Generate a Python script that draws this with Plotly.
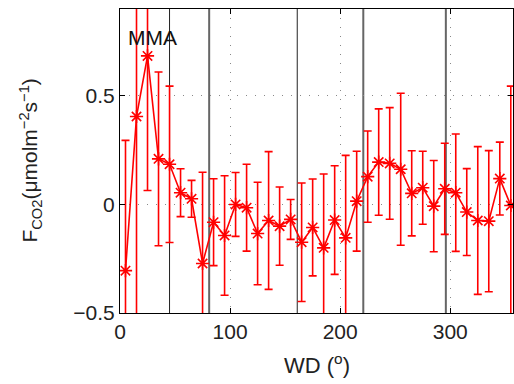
import plotly.graph_objects as go

wd = [5, 15, 25, 35, 45, 55, 65, 75, 85, 95, 105, 115, 125, 135, 145, 155, 165, 175,
      185, 195, 205, 215, 225, 235, 245, 255, 265, 275, 285, 295, 305, 315, 325, 335, 345, 355]
fco2 = [-0.305, 0.405, 0.684, 0.21, 0.185, 0.054, 0.026, -0.272, -0.082, -0.143, 0.0, -0.015,
        -0.134, -0.074, -0.1, -0.069, -0.174, -0.106,
        -0.2, -0.072, -0.154, 0.015, 0.128, 0.195, 0.189, 0.162, 0.051, 0.077, -0.008, 0.072,
        0.054, -0.035, -0.074, -0.077, 0.119, -0.005]
err = [0.6, 1.0, 0.62, 0.4, 0.36, 0.11, 0.085, 0.42, 0.2, 0.275, 0.147, 0.2,
       0.236, 0.317, 0.18, 0.092, 0.273, 0.223,
       0.34, 0.25, 0.38, 0.23, 0.21, 0.245, 0.257, 0.35, 0.196, 0.168, 0.21, 0.21,
       0.27, 0.2, 0.34, 0.325, 0.168, 0.55]
sector_black = [45, 161]
sector_gray = [81, 221, 296]
xticks = [0, 100, 200, 300]
yticks = [-0.5, 0, 0.5]
ytick_text = ["\u22120.5", "0", "0.5"]

FONT = "Liberation Sans, Arial, sans-serif"

fig = go.Figure()
fig.add_trace(go.Scatter(
    x=wd, y=fco2, mode="lines+markers",
    line=dict(color="#ff0000", width=1.6),
    marker=dict(symbol="asterisk-open", size=11, line=dict(color="#ff0000", width=1.6)),
    error_y=dict(type="data", array=err, visible=True, color="#ff0000", thickness=1.6, width=4),
    showlegend=False, cliponaxis=True,
))

shapes = []
for v in sector_black:
    shapes.append(dict(type="line", xref="x", yref="paper", x0=v, x1=v, y0=0, y1=1,
                       line=dict(color="#222222", width=1), layer="below"))
for v in sector_gray:
    shapes.append(dict(type="line", xref="x", yref="paper", x0=v, x1=v, y0=0, y1=1,
                       line=dict(color="#666666", width=2), layer="below"))

axis_common = dict(
    showline=True, linecolor="black", linewidth=1.2, mirror="ticks",
    ticks="inside", ticklen=5, tickcolor="black",
    showgrid=True, gridcolor="#888888", griddash="1px,8px", gridwidth=1.2,
    zeroline=False, tickfont=dict(family=FONT, size=21, color="#222222"),
    automargin=False,
)

fig.update_layout(
    width=514, height=384,
    margin=dict(l=120, r=1, t=9, b=71),
    paper_bgcolor="white", plot_bgcolor="white",
    shapes=shapes,
    xaxis=dict(range=[0, 357], tickvals=xticks, ticktext=[str(t) for t in xticks], **axis_common),
    yaxis=dict(range=[-0.5, 0.9], tickvals=yticks, ticktext=ytick_text, **axis_common),
    annotations=[
        dict(text="MMA", xref="paper", yref="paper", x=0.016, y=0.905, xanchor="left", yanchor="middle",
             showarrow=False, font=dict(family=FONT, size=21, color="#111111")),
        dict(text="F<sub>CO2</sub>(\u03bcmolm<sup>\u22122</sup>s<sup>\u22121</sup>)",
             xref="paper", yref="paper", x=-0.23, y=0.5, xanchor="center", yanchor="middle",
             textangle=-90, showarrow=False, font=dict(family=FONT, size=21, color="#222222")),
        dict(text="WD (<sup>o</sup>)", xref="paper", yref="paper", x=0.5, y=-0.168,
             xanchor="center", yanchor="middle", showarrow=False,
             font=dict(family=FONT, size=22, color="#222222")),
    ],
)
fig.write_html("out.html", config={"displayModeBar": False},
               post_script="document.body.style.margin='0';document.body.style.overflow='hidden';")
